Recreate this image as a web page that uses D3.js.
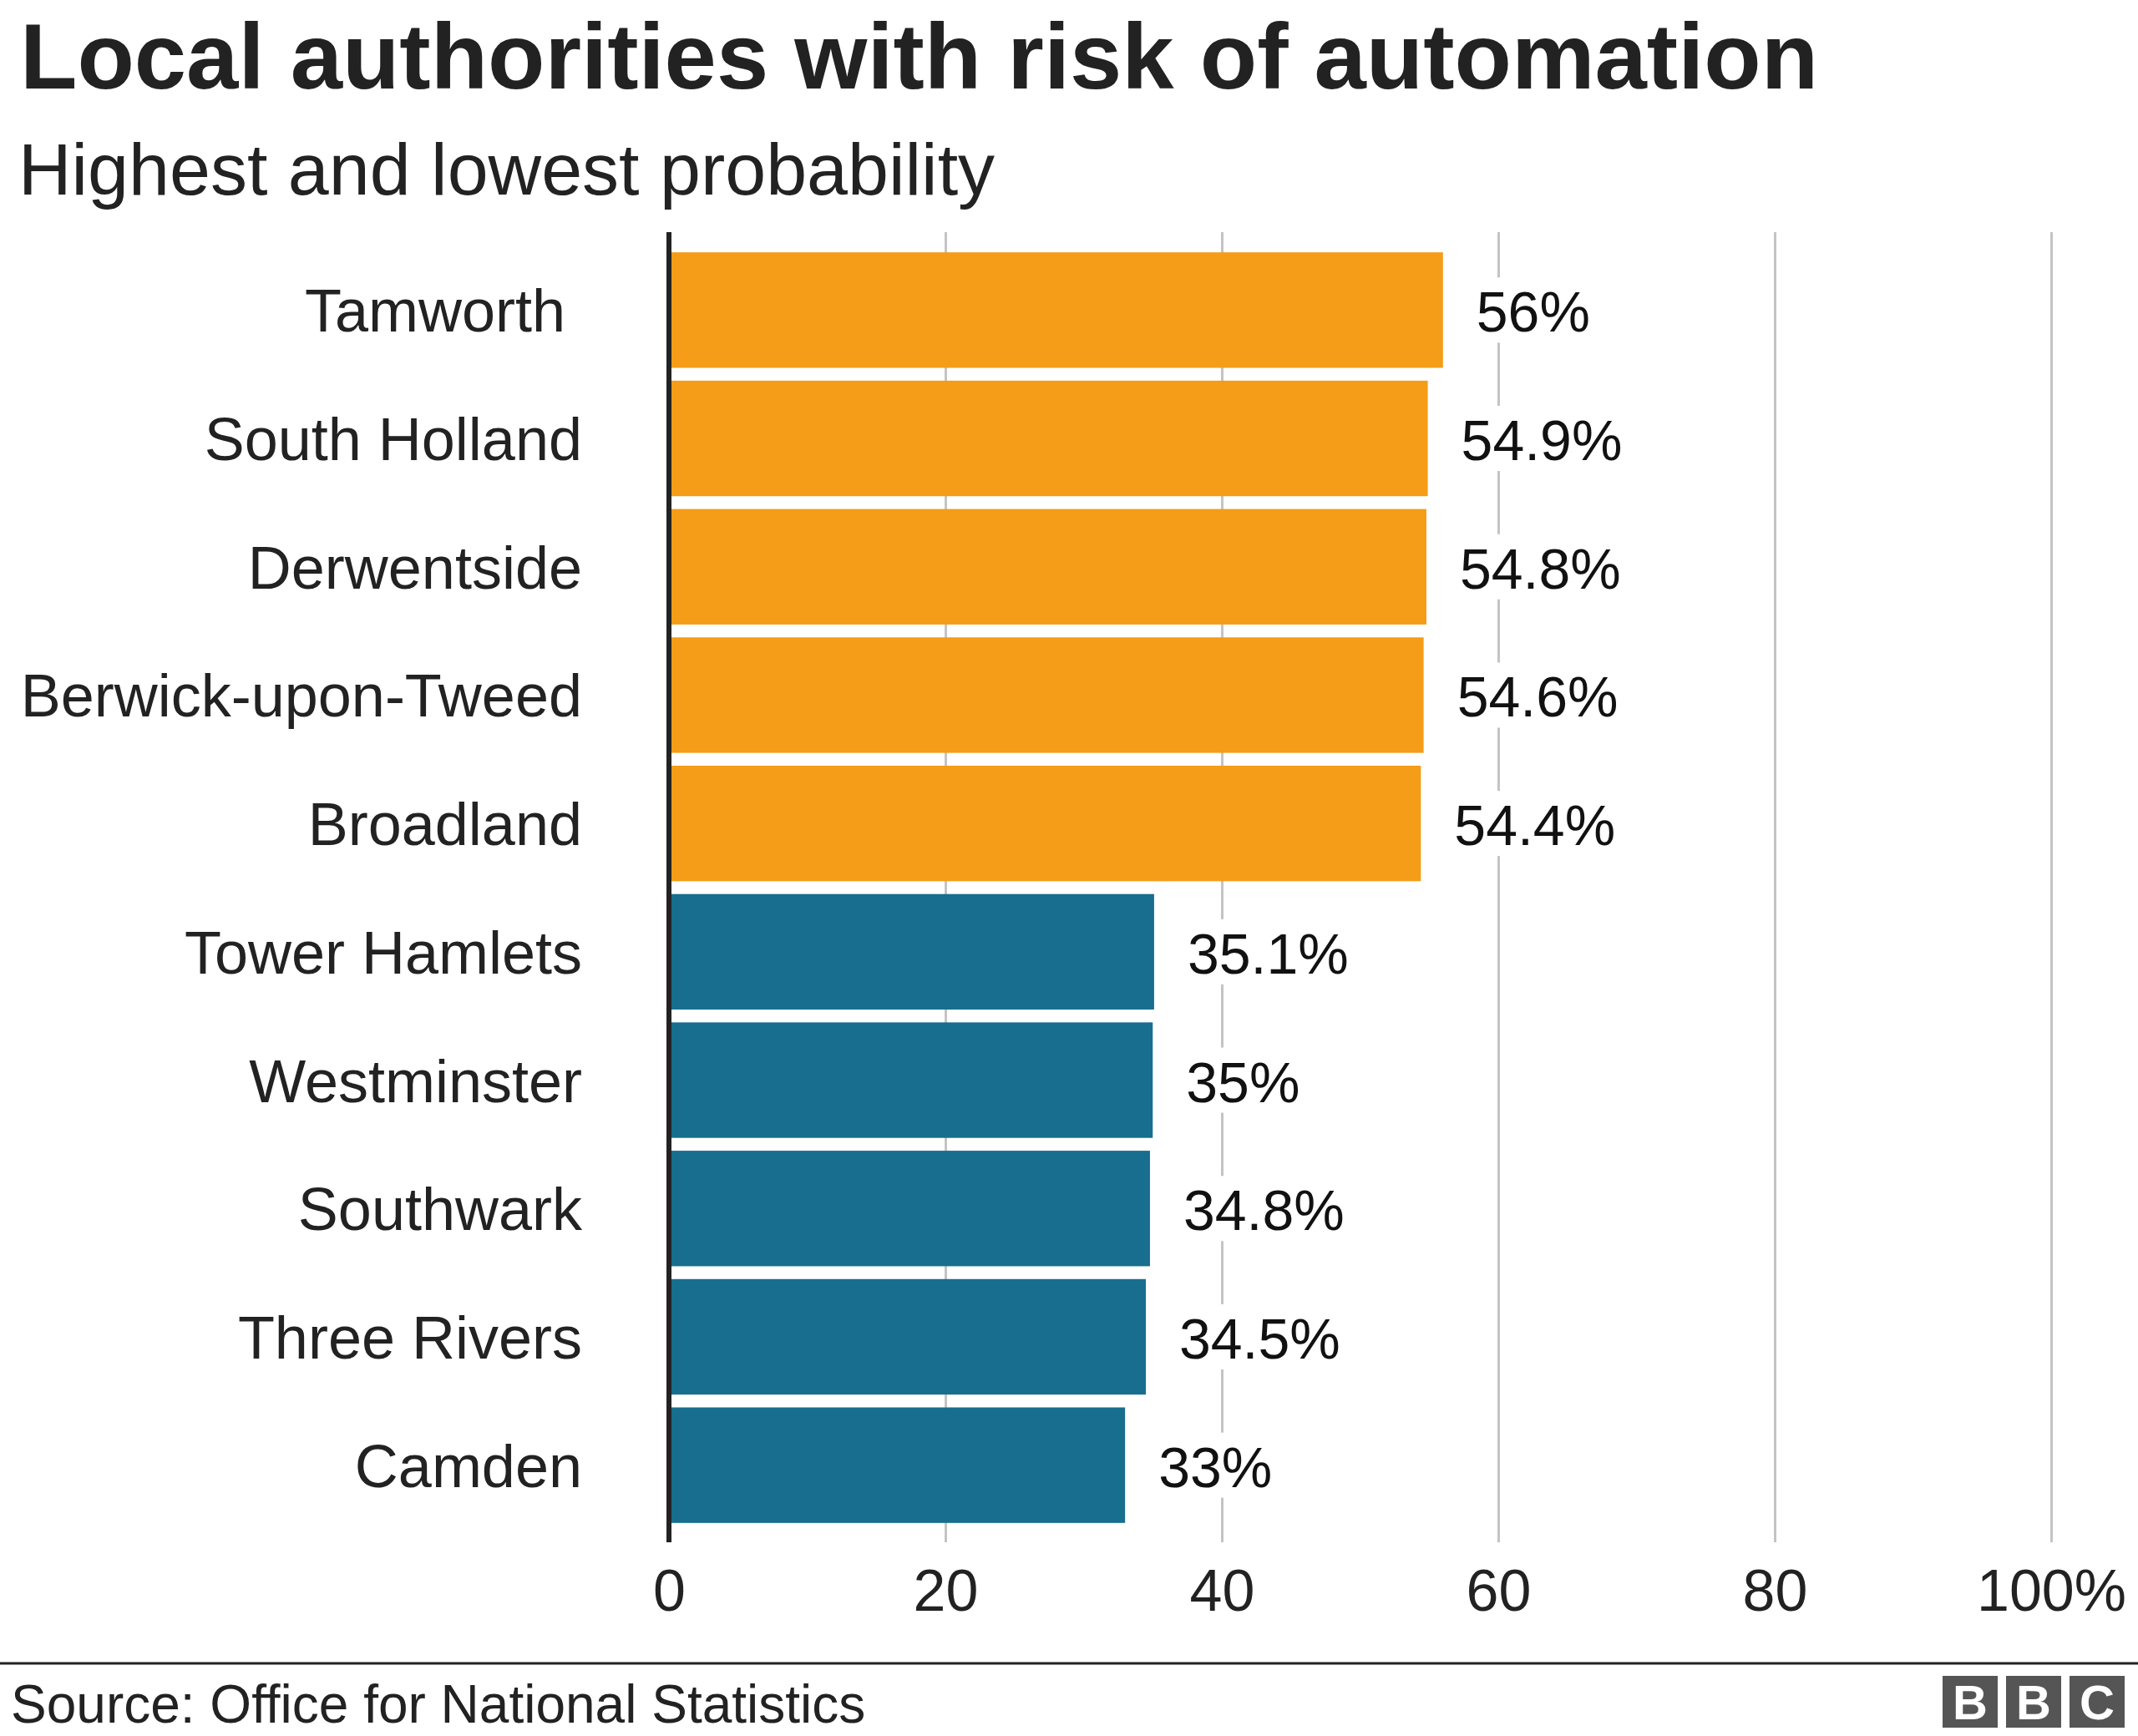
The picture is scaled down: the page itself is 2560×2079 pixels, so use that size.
<!DOCTYPE html>
<html>
<head>
<meta charset="utf-8">
<script src="https://cdn.jsdelivr.net/npm/d3@7"></script>
<style>
  html, body { margin: 0; padding: 0; background: #fff; }
  svg { display: block; font-family: "Liberation Sans", Arial, Helvetica, sans-serif; }
  text { white-space: pre; }
</style>
</head>
<body>
<svg id="chart" width="2560" height="2079"></svg>
<script>
// ---- data ----
const categories = ["Tamworth ", "South Holland", "Derwentside", "Berwick-upon-Tweed", "Broadland",
                    "Tower Hamlets", "Westminster", "Southwark", "Three Rivers", "Camden"];
const values = [56, 54.9, 54.8, 54.6, 54.4, 35.1, 35, 34.8, 34.5, 33];
const groups = ["highest", "highest", "highest", "highest", "highest",
                "lowest", "lowest", "lowest", "lowest", "lowest"];
const tickValues = [0, 20, 40, 60, 80, 100];
const tickLabels = ["0", "20", "40", "60", "80", "100%"];
const titleText = "Local authorities with risk of automation";
const subtitleText = "Highest and lowest probability";
const sourceText = "Source: Office for National Statistics";

// ---- layout ----
const W = 2560, H = 2079;
const svg = d3.select("#chart");
const colour = d3.scaleOrdinal().domain(["highest", "lowest"]).range(["#F59C18", "#176E8E"]);

const x = d3.scaleLinear().domain([0, 100]).range([801, 2456]);
const y = d3.scaleBand().domain(categories).range([294.5, 1831.5]).paddingInner(0.1).paddingOuter(0.05);
const gridTop = 278, gridBottom = 1847;

// title & subtitle
svg.append("text").attr("x", 24).attr("y", 106)
  .attr("font-size", 112).attr("font-weight", "bold").attr("fill", "#222").text(titleText);
svg.append("text").attr("x", 22).attr("y", 233)
  .attr("font-size", 88).attr("fill", "#222").text(subtitleText);

// gridlines
const grid = svg.append("g").attr("transform", `translate(0,${gridBottom})`)
  .call(d3.axisBottom(x).tickValues(tickValues.slice(1)).tickSize(-(gridBottom - gridTop)).tickFormat(""));
grid.select(".domain").remove();
grid.selectAll(".tick line").attr("stroke", "#c4c4c4").attr("stroke-width", 3);

// bars
svg.append("g").selectAll("rect").data(values).join("rect")
  .attr("x", x(0))
  .attr("y", (d, i) => y(categories[i]))
  .attr("width", d => x(d) - x(0))
  .attr("height", y.bandwidth())
  .attr("fill", (d, i) => colour(groups[i]));

// value labels with white background
const lblG = svg.append("g");
values.forEach((v, i) => {
  const cy = y(categories[i]) + y.bandwidth() / 2;
  const g = lblG.append("g");
  const bg = g.append("rect").attr("fill", "#fff");
  const t = g.append("text")
    .attr("x", x(v) + 40)
    .attr("y", cy + 26)
    .attr("font-size", 68).attr("fill", "#111")
    .text(v + "%");
  const bb = t.node().getBBox();
  bg.attr("x", bb.x - 10).attr("y", cy - 39).attr("width", bb.width + 20).attr("height", 78);
});

// category labels
svg.append("g").selectAll("text").data(categories).join("text")
  .attr("x", 697)
  .attr("y", d => y(d) + y.bandwidth() / 2 + 26)
  .attr("text-anchor", "end")
  .attr("font-size", 72).attr("fill", "#222")
  .text(d => d);

// zero axis line
svg.append("line").attr("x1", x(0)).attr("x2", x(0)).attr("y1", gridTop).attr("y2", gridBottom)
  .attr("stroke", "#222").attr("stroke-width", 6);

// x tick labels
const xa = svg.append("g").attr("transform", `translate(0,${gridBottom})`)
  .call(d3.axisBottom(x).tickValues(tickValues).tickSize(0).tickPadding(0)
    .tickFormat((d, i) => tickLabels[i]));
xa.select(".domain").remove();
xa.selectAll(".tick text")
  .attr("font-family", "'Liberation Sans', Arial, sans-serif")
  .attr("font-size", 70).attr("fill", "#222")
  .attr("dy", null).attr("y", 82);

// footer
svg.append("line").attr("x1", 0).attr("x2", W).attr("y1", 1992).attr("y2", 1992)
  .attr("stroke", "#222").attr("stroke-width", 3);
svg.append("text").attr("x", 13).attr("y", 2063)
  .attr("font-size", 64).attr("fill", "#222").text(sourceText);

const bbc = ["B", "B", "C"];
const logo = svg.append("g");
bbc.forEach((ch, i) => {
  const bx = 2326 + i * 76;
  logo.append("rect").attr("x", bx).attr("y", 2007).attr("width", 66).attr("height", 62).attr("fill", "#555");
  logo.append("text").attr("x", bx + 33).attr("y", 2059).attr("text-anchor", "middle")
    .attr("font-size", 58).attr("font-weight", "bold").attr("fill", "#fff").text(ch);
});
</script>
</body>
</html>
